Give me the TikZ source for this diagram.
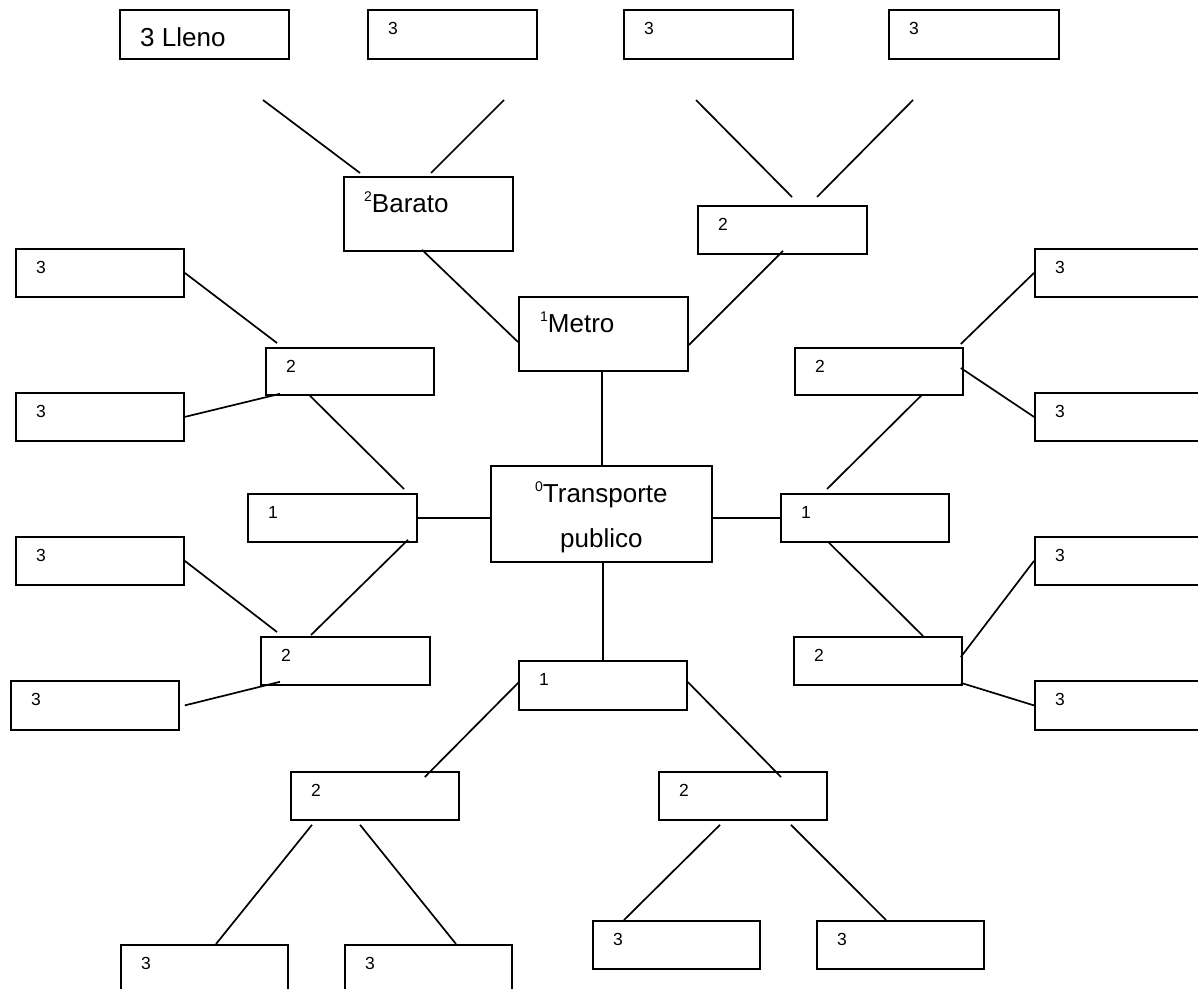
\documentclass[tikz,border=0pt]{standalone}
\usepackage{fontspec}
\setmainfont{Liberation Sans}
\usetikzlibrary{calc}

% small superscript digit in front of a heading word
\newcommand{\hi}[1]{\raisebox{11pt}{\fontsize{14}{14}\selectfont #1}}
% framed box with its level number near the top left corner
\newcommand{\tbox}[6]{%
  \node[box, minimum width=#4pt, minimum height=#5pt] (#1) at (#2,#3) {};
  \node[num] (#1-t) at ($(#1.north west)+(21,25.5)$) {#6};}

\begin{document}
\begin{tikzpicture}[x=1pt, y=-1pt,
  box/.style={draw=black, line width=1.8pt, anchor=north west, inner sep=0pt},
  num/.style={anchor=base west, inner sep=0pt, font=\fontsize{17.5}{20}\selectfont},
  big/.style={inner sep=0pt, font=\fontsize{26}{31}\selectfont},
  link/.style={draw=black, line width=1.7pt}]

\fill[white] (0,0) rectangle (1198,988);
\useasboundingbox (0,0) rectangle (1198,988);

% top row
\node[box, minimum width=169pt, minimum height=49pt] (t1) at (119,9) {};
\node[big, anchor=base west] (t1-t) at ($(t1.north west)+(21,37)$) {3 Lleno};
\tbox{t2}{367}{9}{169}{49}{3}
\tbox{t3}{623}{9}{169}{49}{3}
\tbox{t4}{888}{9}{170}{49}{3}

% headings
\node[box, minimum width=169pt, minimum height=74pt] (barato) at (343,176) {};
\node[big, anchor=base west] (barato-t) at ($(barato.north west)+(21,36)$) {\hi{2}Barato};
\tbox{m2}{697}{205}{169}{48}{2}
\node[box, minimum width=169pt, minimum height=74pt] (metro) at (518,296) {};
\node[big, anchor=base west] (metro-t) at ($(metro.north west)+(22,36)$) {\hi{1}Metro};
\node[box, minimum width=221pt, minimum height=96pt] (trans) at (490,465) {};
\node[big, anchor=base] (trans-t1) at ($(trans.north)+(0,37)$) {\hi{0}Transporte};
\node[big, anchor=base] (trans-t2) at ($(trans.north)+(0,82)$) {publico};

% left branch
\tbox{la3a}{15}{248}{168}{48}{3}
\tbox{la2}{265}{347}{168}{47}{2}
\tbox{la3b}{15}{392}{168}{48}{3}
\tbox{l1}{247}{493}{169}{48}{1}
\tbox{lb3a}{15}{536}{168}{48}{3}
\tbox{lb2}{260}{636}{169}{48}{2}
\tbox{lb3b}{10}{680}{168}{49}{3}

% right branch
\tbox{ra3a}{1034}{248}{170}{48}{3}
\tbox{ra2}{794}{347}{168}{47}{2}
\tbox{ra3b}{1034}{392}{170}{48}{3}
\tbox{r1}{780}{493}{168}{48}{1}
\tbox{rb3a}{1034}{536}{170}{48}{3}
\tbox{rb2}{793}{636}{168}{48}{2}
\tbox{rb3b}{1034}{680}{170}{49}{3}

% bottom branch
\tbox{b1}{518}{660}{168}{49}{1}
\tbox{bl2}{290}{771}{168}{48}{2}
\tbox{br2}{658}{771}{168}{48}{2}
\tbox{bl3a}{120}{944}{167}{50}{3}
\tbox{bl3b}{344}{944}{167}{50}{3}
\tbox{br3a}{592}{920}{167}{48}{3}
\tbox{br3b}{816}{920}{167}{48}{3}

% free ends of the upper connectors
\coordinate (e1) at (263,100);
\coordinate (e2) at (504,100);
\coordinate (e3) at (696,100);
\coordinate (e4) at (913,100);

% connectors
\draw[link] (e1) -- ($(barato.north west)+(17,-3)$);
\draw[link] (e2) -- ($(barato.north west)+(88,-3)$);
\draw[link] ($(barato.south west)+(79,-2)$) -- ($(metro.north west)+(0,46)$);
\draw[link] (e3) -- ($(m2.north west)+(95,-8)$);
\draw[link] (e4) -- ($(m2.north west)+(120,-8)$);
\draw[link] ($(m2.south west)+(86,-4)$) -- ($(metro.north east)+(0,49)$);
\draw[link] ($(metro.south)+(-1.5,0)$) -- ($(metro.south |- trans.north)+(-1.5,0)$);

\draw[link] (la3a.east) -- ($(la2.north west)+(12,-4)$);
\draw[link] (la3b.east) -- ($(la2.south west)+(15,-2)$);
\draw[link] ($(l1.north west)+(157,-4)$) -- ($(la2.south west)+(44,-1)$);
\draw[link] (l1.east) -- (l1.east -| trans.west);
\draw[link] ($(l1.south west)+(161,-3)$) -- ($(lb2.north west)+(51,-1)$);
\draw[link] (lb3a.east) -- ($(lb2.north west)+(17,-4)$);
\draw[link] ($(lb3b.east)+(5,0)$) -- ($(lb2.south west)+(20,-4)$);

\draw[link] (r1.west -| trans.east) -- (r1.west);
\draw[link] ($(r1.north west)+(47,-4)$) -- ($(ra2.south west)+(128,-1)$);
\draw[link] (ra3a.west) -- ($(ra2.north east)+(-3,-3)$);
\draw[link] (ra3b.west) -- ($(ra2.north east)+(-3,21)$);
\draw[link] ($(r1.south west)+(48,-1)$) -- ($(rb2.north west)+(130,0)$);
\draw[link] (rb3a.west) -- ($(rb2.north east)+(-2,21)$);
\draw[link] (rb3b.west) -- ($(rb2.south east)+(-2,-3)$);

\draw[link] (b1.north |- trans.south) -- (b1.north);
\draw[link] ($(b1.north west)+(1,22)$) -- ($(bl2.north east)+(-35,6)$);
\draw[link] ($(b1.north east)+(0,22)$) -- ($(br2.north west)+(123,6)$);
\draw[link] ($(bl2.south west)+(22,4)$) -- ($(bl3a.north west)+(96,0)$);
\draw[link] ($(bl2.south west)+(70,4)$) -- ($(bl3b.north west)+(112,0)$);
\draw[link] ($(br2.south west)+(62,4)$) -- ($(br3a.north west)+(32,0)$);
\draw[link] ($(br2.south west)+(133,4)$) -- ($(br3b.north west)+(70,0)$);
\end{tikzpicture}
\end{document}
